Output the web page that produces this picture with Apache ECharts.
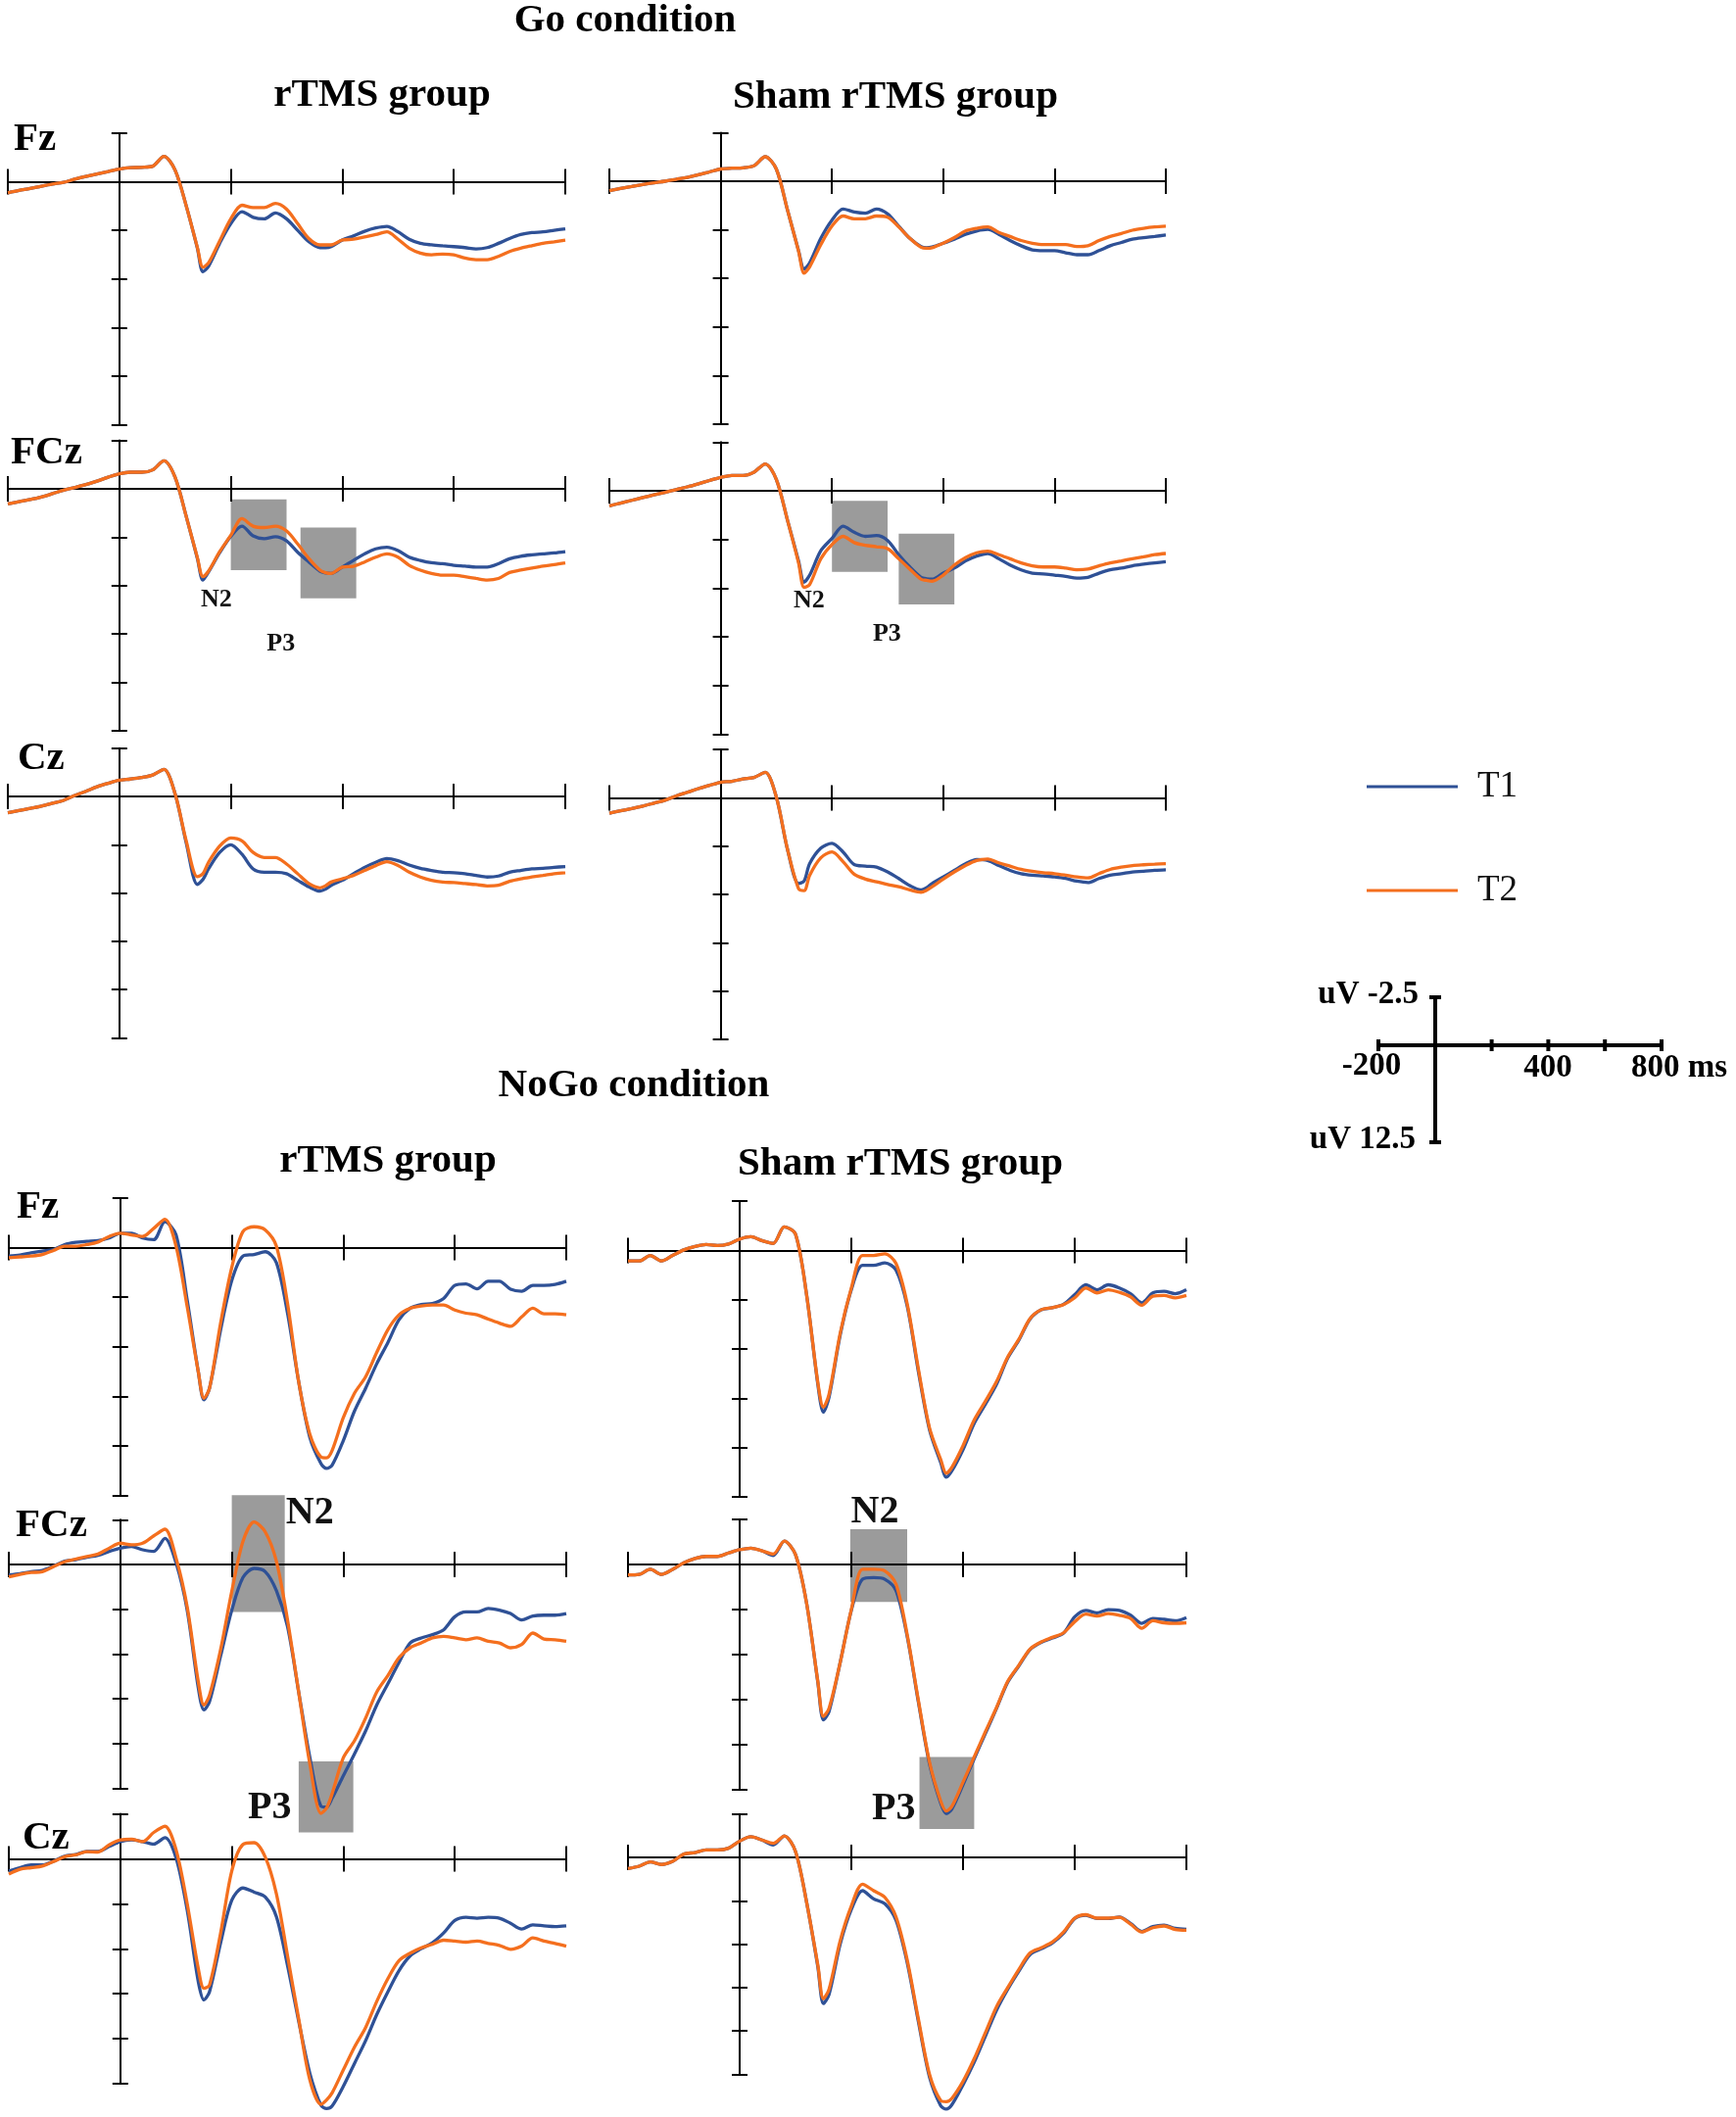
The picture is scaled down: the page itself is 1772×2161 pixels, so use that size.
<!DOCTYPE html>
<html>
<head>
<meta charset="utf-8">
<script src="https://cdn.jsdelivr.net/npm/echarts/dist/echarts.min.js"></script>
<style>
  html, body { margin: 0; padding: 0; background: #fff; }
  #main { width: 1772px; height: 2161px; }
</style>
</head>
<body>
<div id="main"></div>
<script>
// time points (ms) shared by every trace
var times = [-200,-180,-160,-140,-120,-100,-80,-60,-40,-20,0,20,40,60,80,100,120,140,150,160,
  180,200,220,240,260,280,300,320,340,360,370,380,400,420,440,460,480,500,520,540,
  560,580,600,620,640,660,680,700,720,740,760,780,800];

// Go condition, rTMS group (uV)
var goRtmsFzT1 = [0.57,0.45,0.35,0.23,0.12,0.03,-0.13,-0.27,-0.4,-0.52,-0.65,-0.72,-0.74,-0.8,-1.3,-0.6,1.24,3.42,4.63,4.35,
  3.17,2.16,1.54,1.83,1.91,1.61,1.91,2.5,3.09,3.39,3.4,3.34,3.0,2.79,2.55,2.38,2.3,2.58,2.96,3.17,
  3.25,3.3,3.34,3.39,3.46,3.39,3.17,2.92,2.72,2.62,2.58,2.5,2.42];
var goRtmsFzT2 = [0.57,0.45,0.35,0.23,0.12,0.03,-0.13,-0.27,-0.4,-0.52,-0.65,-0.72,-0.74,-0.8,-1.3,-0.6,1.24,3.38,4.4,4.18,
  3.05,1.91,1.21,1.33,1.33,1.12,1.41,2.16,2.92,3.25,3.25,3.25,3.0,2.96,2.84,2.72,2.58,2.96,3.42,3.67,
  3.76,3.72,3.76,3.93,4.01,4.01,3.84,3.59,3.42,3.29,3.17,3.09,3.0];
var goRtmsFCzT1 = [0.78,0.66,0.55,0.42,0.25,0.07,-0.07,-0.22,-0.4,-0.6,-0.78,-0.86,-0.86,-0.98,-1.45,-0.6,1.42,3.6,4.71,4.3,
  3.3,2.45,1.93,2.43,2.57,2.47,2.69,3.28,3.78,4.26,4.35,4.37,4.04,3.7,3.36,3.1,3.02,3.19,3.53,3.7,
  3.82,3.87,3.95,3.99,4.04,4.04,3.87,3.61,3.48,3.41,3.36,3.31,3.24];
var goRtmsFCzT2 = [0.78,0.66,0.55,0.42,0.25,0.07,-0.07,-0.22,-0.4,-0.6,-0.78,-0.86,-0.86,-0.98,-1.45,-0.6,1.42,3.55,4.54,4.25,
  3.25,2.4,1.54,1.93,2.0,1.93,2.18,2.85,3.6,4.2,4.33,4.37,4.04,4.0,3.78,3.53,3.36,3.53,3.95,4.2,
  4.37,4.46,4.46,4.54,4.63,4.71,4.63,4.32,4.2,4.09,3.99,3.92,3.83];
var goRtmsCzT1 = [0.84,0.73,0.62,0.5,0.35,0.2,-0.05,-0.27,-0.5,-0.68,-0.84,-0.9,-0.98,-1.11,-1.4,-0.14,2.4,4.55,4.3,3.75,
  2.9,2.5,2.99,3.75,3.92,3.92,4.0,4.34,4.68,4.9,4.8,4.6,4.34,4.0,3.67,3.41,3.21,3.33,3.55,3.72,
  3.83,3.92,3.95,4.0,4.09,4.17,4.12,3.92,3.83,3.75,3.72,3.67,3.63];
var goRtmsCzT2 = [0.84,0.73,0.62,0.5,0.35,0.2,-0.05,-0.27,-0.5,-0.68,-0.84,-0.9,-0.98,-1.11,-1.4,-0.14,2.3,4.15,4.0,3.41,
  2.57,2.15,2.3,2.9,3.16,3.16,3.5,4.0,4.51,4.73,4.62,4.43,4.26,4.09,3.83,3.58,3.38,3.58,3.92,4.17,
  4.34,4.43,4.46,4.51,4.56,4.63,4.6,4.39,4.26,4.17,4.09,4.0,3.95];

// Go condition, sham rTMS group
var goShamFzT1 = [0.48,0.37,0.27,0.17,0.08,0.0,-0.1,-0.2,-0.33,-0.48,-0.63,-0.67,-0.69,-0.8,-1.26,-0.63,1.47,3.57,4.52,4.2,
  2.94,2.0,1.43,1.58,1.64,1.43,1.68,2.31,2.94,3.36,3.42,3.38,3.19,2.98,2.73,2.56,2.48,2.73,3.05,3.32,
  3.53,3.57,3.57,3.68,3.78,3.78,3.57,3.32,3.15,2.98,2.9,2.84,2.77];
var goShamFzT2 = [0.48,0.37,0.27,0.17,0.08,0.0,-0.1,-0.2,-0.33,-0.48,-0.63,-0.67,-0.69,-0.8,-1.26,-0.63,1.47,3.6,4.73,4.4,
  3.26,2.31,1.79,1.93,1.93,1.79,1.85,2.35,2.94,3.4,3.45,3.42,3.19,2.9,2.56,2.42,2.35,2.63,2.84,3.05,
  3.19,3.26,3.26,3.26,3.36,3.32,3.05,2.84,2.69,2.52,2.42,2.35,2.31];
var goShamFCzT1 = [0.77,0.63,0.49,0.35,0.21,0.08,-0.06,-0.2,-0.36,-0.53,-0.69,-0.79,-0.79,-0.96,-1.38,-0.59,1.5,3.6,4.69,4.33,
  3.08,2.45,1.82,2.13,2.34,2.3,2.55,3.28,3.91,4.44,4.52,4.54,4.23,3.97,3.6,3.35,3.22,3.49,3.81,4.06,
  4.23,4.27,4.33,4.39,4.48,4.44,4.23,4.06,3.97,3.85,3.77,3.7,3.64];
var goShamFCzT2 = [0.77,0.63,0.49,0.35,0.21,0.08,-0.06,-0.2,-0.36,-0.53,-0.69,-0.79,-0.79,-0.96,-1.38,-0.59,1.5,3.7,4.96,4.81,
  3.49,2.76,2.34,2.66,2.8,2.87,2.97,3.49,4.02,4.54,4.6,4.64,4.33,3.81,3.43,3.18,3.1,3.28,3.49,3.7,
  3.85,3.91,3.91,3.97,4.06,4.02,3.85,3.7,3.6,3.49,3.39,3.28,3.22];
var goShamCzT1 = [0.79,0.67,0.55,0.42,0.27,0.12,-0.1,-0.29,-0.48,-0.65,-0.81,-0.86,-0.98,-1.06,-1.32,-0.05,2.65,4.43,4.3,3.4,
  2.6,2.35,2.8,3.45,3.53,3.58,3.83,4.17,4.54,4.76,4.65,4.43,4.09,3.75,3.41,3.19,3.24,3.5,3.75,3.92,
  4.0,4.04,4.09,4.17,4.31,4.38,4.17,4.0,3.92,3.83,3.8,3.75,3.72];
var goShamCzT2 = [0.79,0.67,0.55,0.42,0.27,0.12,-0.1,-0.29,-0.48,-0.65,-0.81,-0.86,-0.98,-1.06,-1.32,-0.05,2.65,4.7,4.8,4.0,
  3.1,2.8,3.3,3.95,4.2,4.34,4.48,4.6,4.76,4.88,4.78,4.6,4.2,3.83,3.5,3.24,3.16,3.36,3.53,3.7,
  3.8,3.87,3.92,4.0,4.09,4.14,3.92,3.7,3.58,3.5,3.46,3.43,3.4];

// NoGo condition, rTMS group
var noRtmsFzT1 = [0.43,0.38,0.26,0.18,0.1,-0.15,-0.26,-0.31,-0.35,-0.48,-0.72,-0.72,-0.48,-0.4,-1.3,-0.64,2.65,6.28,7.68,7.1,
  4.14,1.66,0.43,0.35,0.21,0.76,3.31,6.77,9.57,10.89,11.14,10.97,9.74,8.25,7.1,5.86,4.79,3.64,3.06,2.87,
  2.82,2.57,1.91,1.83,2.08,1.7,1.7,2.1,2.2,1.91,1.91,1.86,1.7];
var noRtmsFzT2 = [0.51,0.47,0.43,0.35,0.15,-0.07,-0.07,-0.15,-0.28,-0.56,-0.72,-0.64,-0.56,-0.97,-1.43,-0.07,2.98,6.28,7.6,7.1,
  3.8,1.0,-0.81,-1.05,-0.89,-0.07,2.82,6.77,9.41,10.56,10.6,10.23,8.58,7.35,6.52,5.29,4.14,3.39,3.06,2.95,
  2.9,2.9,3.15,3.31,3.39,3.61,3.81,3.97,3.5,3.06,3.34,3.34,3.39];
var noRtmsFCzT1 = [0.58,0.51,0.4,0.33,0.09,-0.18,-0.27,-0.4,-0.51,-0.73,-0.91,-1.0,-0.82,-0.73,-1.46,-0.09,2.55,6.9,8.12,7.66,
  5.1,2.55,0.73,0.22,0.4,1.46,3.47,7.12,10.77,13.5,13.55,13.05,11.8,10.58,9.3,7.85,6.66,5.47,4.38,4.1,
  3.92,3.65,2.92,2.65,2.65,2.46,2.55,2.74,3.1,2.88,2.83,2.83,2.74];
var noRtmsFCzT2 = [0.69,0.55,0.45,0.4,0.12,-0.15,-0.3,-0.45,-0.58,-0.91,-1.19,-1.1,-1.19,-1.6,-1.97,-0.36,2.37,6.57,7.85,7.3,
  4.74,1.5,-1.28,-2.37,-1.82,-0.18,3.1,7.12,11.13,13.9,13.6,12.8,10.8,9.85,8.58,7.12,6.2,5.2,4.65,4.38,
  4.1,4.01,4.1,4.2,4.1,4.29,4.38,4.65,4.47,3.83,4.16,4.2,4.29];
var noRtmsCzT1 = [0.67,0.49,0.34,0.34,0.13,-0.15,-0.24,-0.42,-0.42,-0.69,-0.96,-1.05,-0.96,-0.82,-1.18,-0.05,2.85,6.84,7.84,7.39,
  4.66,2.3,1.62,1.85,2.12,3.21,5.93,9.02,11.92,13.7,13.88,13.74,12.65,11.38,10.11,8.66,7.39,6.21,5.39,4.99,
  4.66,4.12,3.43,3.25,3.3,3.25,3.3,3.58,3.9,3.67,3.72,3.76,3.72];
var noRtmsCzT2 = [0.85,0.58,0.49,0.4,0.15,-0.12,-0.22,-0.4,-0.38,-0.78,-1.05,-1.09,-0.96,-1.47,-1.81,-0.51,2.49,6.12,7.2,7.02,
  4.12,0.67,-0.8,-0.9,-0.1,1.94,5.39,8.9,12.29,13.65,13.4,13.01,11.74,10.47,9.38,7.93,6.66,5.66,5.24,4.94,
  4.75,4.52,4.57,4.63,4.57,4.7,4.81,5.03,4.85,4.39,4.57,4.7,4.85];

// NoGo condition, sham rTMS group
var noShamFzT1 = [0.53,0.53,0.25,0.53,0.25,-0.03,-0.2,-0.3,-0.25,-0.33,-0.58,-0.7,-0.5,-0.36,-1.2,-0.83,2.27,6.79,8.2,7.45,
  4.3,1.99,0.75,0.75,0.63,0.99,2.81,6.13,9.1,10.76,11.5,11.18,10.1,8.77,7.8,6.79,5.46,4.55,3.48,3.01,
  2.9,2.73,2.24,1.74,1.99,1.74,1.9,2.19,2.65,2.15,2.07,2.19,1.99];
var noShamFzT2 = [0.53,0.53,0.25,0.53,0.25,-0.03,-0.2,-0.3,-0.25,-0.33,-0.58,-0.7,-0.5,-0.36,-1.2,-0.83,2.27,6.7,7.95,7.3,
  4.2,1.9,0.25,0.25,0.17,0.66,2.7,6.0,9.0,10.6,11.3,11.0,9.9,8.6,7.65,6.65,5.4,4.5,3.45,3.0,
  2.9,2.75,2.4,1.9,2.15,1.99,2.12,2.35,2.78,2.32,2.28,2.4,2.28];
var noShamFCzT1 = [0.58,0.55,0.27,0.55,0.27,-0.09,-0.33,-0.45,-0.45,-0.64,-0.82,-0.91,-0.76,-0.5,-1.3,-0.55,2.18,6.55,8.64,8.18,
  5.45,2.55,0.82,0.73,0.82,1.45,4.0,7.64,11.09,13.27,13.85,13.6,12.25,10.8,9.4,8.0,6.55,5.64,4.73,4.33,
  4.09,3.82,2.91,2.55,2.69,2.51,2.55,2.82,3.27,3.0,3.05,3.13,2.95];
var noShamFCzT2 = [0.58,0.55,0.27,0.55,0.27,-0.09,-0.33,-0.45,-0.45,-0.64,-0.82,-0.91,-0.76,-0.58,-1.3,-0.55,2.18,6.5,8.45,8.0,
  5.45,2.5,0.27,0.27,0.36,1.09,3.9,7.55,11.0,13.15,13.7,13.45,12.1,10.7,9.3,7.95,6.5,5.6,4.7,4.3,
  4.05,3.8,3.18,2.76,2.87,2.73,2.82,3.0,3.55,3.13,3.24,3.27,3.24];
var noShamCzT1 = [0.64,0.51,0.26,0.41,0.23,-0.19,-0.28,-0.43,-0.43,-0.53,-0.94,-1.19,-1.0,-0.72,-1.24,-0.34,2.6,6.3,8.42,7.9,
  5.0,3.0,1.92,2.39,2.67,3.62,6.06,9.45,12.66,14.3,14.5,14.25,13.1,11.8,10.3,8.8,7.6,6.55,5.6,5.27,
  4.93,4.37,3.52,3.33,3.52,3.52,3.43,3.8,4.27,3.99,3.9,4.09,4.14];
var noShamCzT2 = [0.64,0.51,0.26,0.41,0.23,-0.19,-0.28,-0.43,-0.43,-0.53,-0.94,-1.19,-1.0,-0.81,-1.24,-0.34,2.6,6.2,8.14,7.6,
  4.8,2.8,1.54,1.92,2.3,3.43,5.9,9.3,12.5,14.0,14.07,13.88,12.9,11.6,10.1,8.6,7.5,6.45,5.5,5.2,
  4.88,4.3,3.5,3.3,3.5,3.5,3.45,3.85,4.3,4.05,3.95,4.15,4.2];

// N2 / P3 time windows: [t start, uV, t end, uV]
var goRtmsBoxes = [[200, 0.55, 300, 4.2], [325, 2.0, 425, 5.65]];
var goShamBoxes = [[200, 0.52, 300, 4.16], [320, 2.2, 420, 5.84]];
var noRtmsBoxes = [[200, -3.87, 295, 2.65], [320, 11.0, 418, 14.96]];
var noShamBoxes = [[198, -1.96, 300, 2.09], [322, 10.7, 420, 14.7]];

// component labels: [ms, uV, text]
var goRtmsMarks = [[174, 5.75, 'N2'], [290, 8.03, 'P3']];
var goShamMarks = [[159, 5.63, 'N2'], [299, 7.37, 'P3']];
var noRtmsMarks = [[297, -2.88, 'N2'], [307, 13.6, 'P3']];
var noShamMarks = [[242, -2.92, 'N2'], [315, 13.58, 'P3']];

var BLUE = '#2f5196';
var ORANGE = '#f46f1e';
var BOX = '#9b9b9b';
var SERIF = '"Liberation Serif", "Times New Roman", serif';

// panel layout in pixels: left edge (-200 ms), width, y of 0 uV, pixels per 2.5 uV
var panels = [
  { t1: goRtmsFzT1, t2: goRtmsFzT2, left: 8, width: 569, zero: 185.5, unit: 49.6 },
  { t1: goRtmsFCzT1, t2: goRtmsFCzT2, left: 8, width: 569, zero: 499, unit: 49.4,
    boxes: goRtmsBoxes, marks: goRtmsMarks, markSize: 26, markAlign: ['center', 'center'] },
  { t1: goRtmsCzT1, t2: goRtmsCzT2, left: 8, width: 569, zero: 813, unit: 49.3 },
  { t1: goShamFzT1, t2: goShamFzT2, left: 622, width: 568, zero: 185, unit: 49.6 },
  { t1: goShamFCzT1, t2: goShamFCzT2, left: 622, width: 568, zero: 501, unit: 49.7,
    boxes: goShamBoxes, marks: goShamMarks, markSize: 26, markAlign: ['center', 'center'] },
  { t1: goShamCzT1, t2: goShamCzT2, left: 622, width: 568, zero: 814.5, unit: 49.3 },
  { t1: noRtmsFzT1, t2: noRtmsFzT2, left: 9, width: 569, zero: 1273.5, unit: 50.6 },
  { t1: noRtmsFCzT1, t2: noRtmsFCzT2, left: 9, width: 569, zero: 1597, unit: 45.7,
    boxes: noRtmsBoxes, marks: noRtmsMarks, markSize: 40, markAlign: ['left', 'right'] },
  { t1: noRtmsCzT1, t2: noRtmsCzT2, left: 9, width: 569, zero: 1897.5, unit: 45.9 },
  { t1: noShamFzT1, t2: noShamFzT2, left: 641, width: 570, zero: 1276.5, unit: 50.3 },
  { t1: noShamFCzT1, t2: noShamFCzT2, left: 641, width: 570, zero: 1597, unit: 45.9,
    boxes: noShamBoxes, marks: noShamMarks, markSize: 40, markAlign: ['center', 'right'] },
  { t1: noShamCzT1, t2: noShamCzT2, left: 641, width: 570, zero: 1896, unit: 44.3 }
];

function pairs(vals) {
  return times.map(function (t, k) { return [t, vals[k]]; });
}

var axisColor = '#000';
var grids = [], xAxes = [], yAxes = [], series = [];

panels.forEach(function (p, i) {
  grids.push({
    left: p.left, top: p.zero - p.unit, width: p.width, height: p.unit * 6,
    containLabel: false, outerBoundsMode: 'none'
  });
  [false, true].forEach(function (inside) {
    xAxes.push({
      type: 'value', gridIndex: i, position: 'bottom', min: -200, max: 800, interval: 200, z: 3,
      axisLine: { show: !inside, onZero: true, onZeroAxisIndex: 2 * i, lineStyle: { color: axisColor, width: 2 } },
      axisTick: { show: true, inside: inside, length: 13, lineStyle: { color: axisColor, width: 2 } },
      axisLabel: { show: false }, splitLine: { show: false }
    });
    yAxes.push({
      type: 'value', gridIndex: i, position: 'left', min: -2.5, max: 12.5, interval: 2.5, inverse: true, z: 3,
      axisLine: { show: !inside, onZero: true, onZeroAxisIndex: 2 * i, lineStyle: { color: axisColor, width: 2 } },
      axisTick: { show: true, inside: inside, length: 8, lineStyle: { color: axisColor, width: 2 } },
      axisLabel: { show: false }, splitLine: { show: false }
    });
  });

  if (p.boxes) {
    series.push({
      type: 'custom', xAxisIndex: 2 * i, yAxisIndex: 2 * i, z: 2, clip: false, silent: true,
      data: p.boxes,
      encode: { x: [0, 2], y: [1, 3] },
      renderItem: function (params, api) {
        var a = api.coord([api.value(0), api.value(1)]);
        var b = api.coord([api.value(2), api.value(3)]);
        return {
          type: 'rect',
          shape: { x: Math.min(a[0], b[0]), y: Math.min(a[1], b[1]),
                   width: Math.abs(b[0] - a[0]), height: Math.abs(b[1] - a[1]) },
          style: { fill: BOX }
        };
      }
    });
  }

  series.push({
    name: 'T1', type: 'line', xAxisIndex: 2 * i, yAxisIndex: 2 * i, z: 4,
    data: pairs(p.t1), symbol: 'none', showSymbol: false, smooth: 0.3, clip: false, silent: true,
    lineStyle: { color: BLUE, width: 3.3 }, itemStyle: { color: BLUE }
  });
  series.push({
    name: 'T2', type: 'line', xAxisIndex: 2 * i, yAxisIndex: 2 * i, z: 5,
    data: pairs(p.t2), symbol: 'none', showSymbol: false, smooth: 0.3, clip: false, silent: true,
    lineStyle: { color: ORANGE, width: 3.3 }, itemStyle: { color: ORANGE }
  });

  if (p.marks) {
    series.push({
      type: 'custom', xAxisIndex: 2 * i, yAxisIndex: 2 * i, z: 6, clip: false, silent: true,
      data: p.marks.map(function (m) { return [m[0], m[1]]; }),
      renderItem: function (params, api) {
        var m = p.marks[params.dataIndex];
        var pt = api.coord([m[0], m[1]]);
        return {
          type: 'text', x: pt[0], y: pt[1],
          style: {
            text: m[2], fill: '#111', font: 'bold ' + p.markSize + 'px ' + SERIF,
            align: p.markAlign[params.dataIndex], verticalAlign: 'middle'
          }
        };
      }
    });
  }
});

// headings and electrode names
var headings = [
  ['Go condition', 638, 21, 'center'],
  ['rTMS group', 390, 97, 'center'],
  ['Sham rTMS group', 914, 99, 'center'],
  ['NoGo condition', 647, 1108, 'center'],
  ['rTMS group', 396, 1185, 'center'],
  ['Sham rTMS group', 919, 1188, 'center'],
  ['Fz', 14, 142, 'left'],
  ['FCz', 11, 462, 'left'],
  ['Cz', 18, 774, 'left'],
  ['Fz', 17, 1232, 'left'],
  ['FCz', 16, 1557, 'left'],
  ['Cz', 23, 1876, 'left']
];

var graphics = headings.map(function (h) {
  return {
    type: 'text', x: h[1], y: h[2], silent: true,
    style: { text: h[0], fill: '#000', font: 'bold 41px ' + SERIF, align: h[3], verticalAlign: 'middle' }
  };
});

// scale key
function seg(x1, y1, x2, y2) {
  return { type: 'line', silent: true, shape: { x1: x1, y1: y1, x2: x2, y2: y2 },
           style: { stroke: '#000', lineWidth: 4 } };
}
var keyX0 = 1407, keyX1 = 1696, keyY = 1067, keyV = 1465;
graphics.push(seg(keyV, 1018, keyV, 1166));
graphics.push(seg(keyV - 6, 1018, keyV + 6, 1018));
graphics.push(seg(keyV - 6, 1166, keyV + 6, 1166));
graphics.push(seg(keyX0, keyY, keyX1, keyY));
[-200, 200, 400, 600, 800].forEach(function (ms) {
  var x = keyX0 + (ms + 200) / 1000 * (keyX1 - keyX0);
  graphics.push(seg(x, keyY - 6, x, keyY + 6));
});
var keyFont = 'bold 33px ' + SERIF;
[
  ['uV -2.5', 1448, 1015, 'right'],
  ['uV 12.5', 1445, 1163, 'right'],
  ['-200', 1400, 1088, 'center'],
  ['400', 1580, 1090, 'center'],
  ['800 ms', 1665, 1090, 'left']
].forEach(function (k) {
  graphics.push({
    type: 'text', x: k[1], y: k[2], silent: true,
    style: { text: k[0], fill: '#000', font: keyFont, align: k[3], verticalAlign: 'middle' }
  });
});

var chart = echarts.init(document.getElementById('main'));
chart.setOption({
  animation: false,
  backgroundColor: '#fff',
  legend: {
    left: 1390, top: 778, orient: 'vertical', selectedMode: false,
    itemWidth: 93, itemHeight: 3, itemGap: 66,
    data: [{ name: 'T1', icon: 'rect' }, { name: 'T2', icon: 'rect' }],
    itemStyle: { borderWidth: 0 },
    textStyle: { fontFamily: 'Liberation Serif', fontSize: 37, color: '#111', lineHeight: 40, padding: [0, 0, 0, 15] }
  },
  grid: grids,
  xAxis: xAxes,
  yAxis: yAxes,
  series: series,
  graphic: graphics
});
</script>
</body>
</html>
